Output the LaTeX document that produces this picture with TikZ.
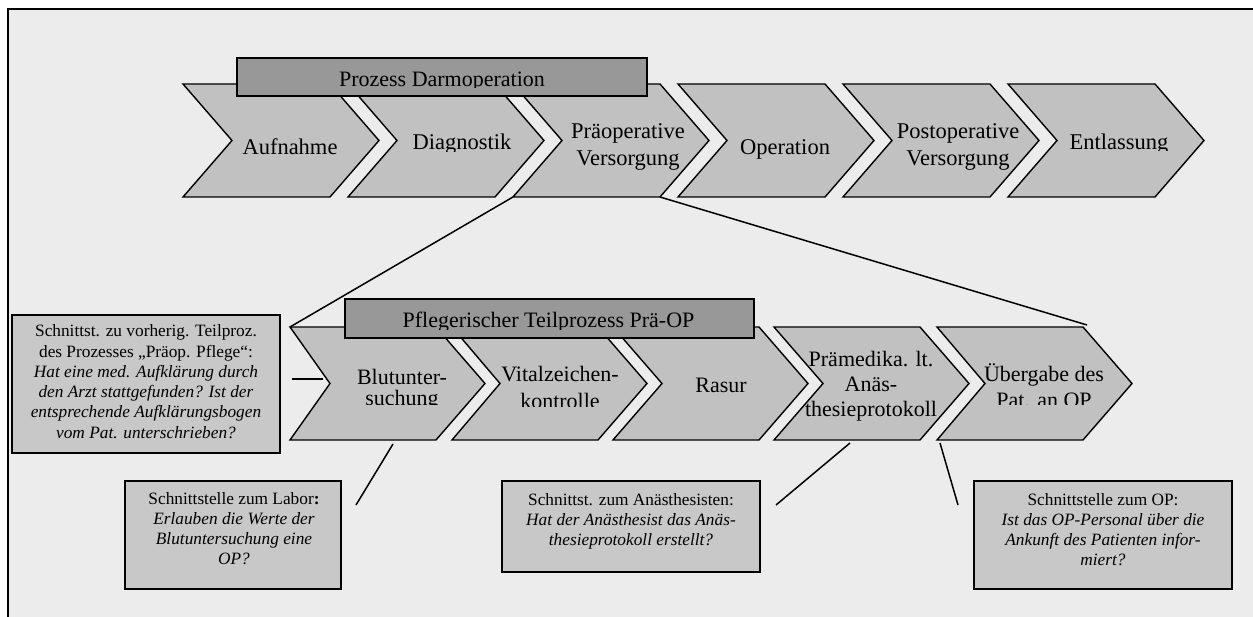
\documentclass[tikz,border=0pt]{standalone}
\usepackage{fontspec}
\setmainfont{Liberation Serif}
\definecolor{bgc}{RGB}{236,236,236}
\definecolor{chevc}{RGB}{193,193,193}
\definecolor{hdrc}{RGB}{152,152,152}
\definecolor{boxc}{RGB}{200,200,200}
% name, x0, y0, width, height, tip depth, notch depth
\newcommand\chevshape[7]{%
  \draw[chev] (#2,#3) coordinate (#1TL) -- ++(#4,0) coordinate (#1TR)
    -- ++(#6,#5/2) coordinate (#1tip) -- ++(-#6,#5/2) coordinate (#1BR)
    -- ++(-#4,0) coordinate (#1BL) -- ++(#7,-#5/2) coordinate (#1notch) -- cycle;}
\tikzset{
  chev/.style={draw=black, fill=chevc, line width=1.4pt, line join=miter},
  hdr/.style={draw=black, fill=hdrc, line width=1.5pt, rectangle, inner sep=0pt},
  ibox/.style={draw=black, fill=boxc, line width=2.2pt, rectangle, inner sep=0pt},
  ctext/.style={font=\fontsize{22.5}{27}\selectfont, inner sep=0pt, align=center},
  btext/.style={inner sep=0pt, align=center},
  conn/.style={draw=black, line width=1.5pt},
}
\begin{document}
\begin{tikzpicture}[x=1pt,y=-1pt]
\useasboundingbox (0,0) rectangle (1253,617);
\fill[white] (0,0) rectangle (1253,617);
\fill[bgc] (8,9) rectangle (1253,617);
\draw[line width=2pt] (8,617) -- (8,9) -- (1253,9);

% top chevrons
\chevshape{auf}{183}{84}{147}{113}{49}{49}
\chevshape{dia}{348}{84}{147}{113}{49}{49}
\chevshape{prae}{513}{84}{147}{113}{49}{49}
\chevshape{ope}{678}{84}{147}{113}{49}{49}
\chevshape{post}{843}{84}{147}{113}{49}{49}
\chevshape{ent}{1008}{84}{147}{113}{49}{49}

\node[ctext, anchor=base] (aufT) at (290,155) {Aufnahme};
\begin{scope}
  \clip (400,84) rectangle (540,152);
  \node[ctext, anchor=base] (diaT) at (462,150) {Diagnostik};
\end{scope}
\node[ctext] (praeT) at (628,147.1) {\strut Präoperative\\\strut Versorgung};
\node[ctext, anchor=base] (opeT) at (785,155) {Operation};
\node[ctext] (postT) at (958,147.1) {\strut Postoperative\\\strut Versorgung};
\begin{scope}
  \clip (1060,84) rectangle (1200,151);
  \node[ctext, anchor=base] (entT) at (1119,150) {Entlassung};
\end{scope}

% top header
\node[hdr, minimum width=410pt, minimum height=38pt] (hdrTop) at (442,77) {};
\begin{scope}
  \clip (237,58) rectangle (647,88);
  \node[anchor=base, inner sep=0pt, font=\fontsize{22}{26}\selectfont] (hdrTopT) at (442,87) {Prozess Darmoperation};
\end{scope}

% lower chevrons
\chevshape{blut}{290}{327}{146}{113}{49}{40}
\chevshape{vital}{452}{327}{146}{113}{49}{48}
\chevshape{rasur}{613}{327}{146}{113}{49}{49}
\chevshape{praem}{774}{327}{146}{113}{49}{49}
\chevshape{ueb}{937}{327}{146}{113}{49}{48}

\begin{scope}
  \clip (330,327) rectangle (485,405);
  \node[btext, font=\fontsize{22}{18.5}\selectfont] (blutT) at (402,390.2) {\strut Blutunter-\\\strut suchung};
\end{scope}
\begin{scope}
  \clip (490,327) rectangle (645,406.5);
  \node[btext, font=\fontsize{22}{27}\selectfont] (vitalT) at (560,390.1) {\strut Vitalzeichen-\\\strut kontrolle};
\end{scope}
\node[btext, anchor=base, font=\fontsize{22}{26}\selectfont] (rasurT) at (721,393) {Rasur};
\node[btext, font=\fontsize{22}{25.5}\selectfont] (praemT) at (871,386.4) {\strut Prämedika. lt.\\\strut Anäs-\\\strut thesieprotokoll};
\begin{scope}
  \clip (960,327) rectangle (1130,405);
  \node[btext, font=\fontsize{22}{26}\selectfont] (uebT) at (1044,389.8) {\strut Übergabe des\\\strut Pat. an OP};
\end{scope}

% lower header
\node[hdr, minimum width=409pt, minimum height=39pt] (hdrLow) at (549.5,318.5) {};
\begin{scope}
  \clip (345,299) rectangle (754,330);
  \node[anchor=base, inner sep=0pt, font=\fontsize{22}{26}\selectfont] (hdrLowT) at (548.5,328) {Pflegerischer Teilprozess Prä-OP};
\end{scope}

% interface boxes
\node[ibox, minimum width=268pt, minimum height=138pt] (leftBox) at (146,384) {};
\node[btext, font=\fontsize{17.3}{20.3}\selectfont] (leftT) at (146,383.4) {\strut Schnittst. zu vorherig. Teilproz.\\
\strut des Prozesses „Präop. Pflege“:\\
\strut\textit{Hat eine med. Aufklärung durch}\\
\strut\textit{den Arzt stattgefunden? Ist der}\\
\strut\textit{entsprechende Aufklärungsbogen}\\
\strut\textit{vom Pat. unterschrieben?}};

\node[ibox, minimum width=216pt, minimum height=108pt] (laborBox) at (233,535) {};
\node[btext, font=\fontsize{17.3}{19.8}\selectfont] (laborT) at (234,530.7) {\strut Schnittstelle zum Labor\textbf{:}\\
\strut\textit{Erlauben die Werte der}\\
\strut\textit{Blutuntersuchung eine}\\
\strut\textit{OP?}};

\node[ibox, minimum width=258pt, minimum height=91pt] (anaeBox) at (631,526.5) {};
\node[btext, font=\fontsize{17.3}{20}\selectfont] (anaeT) at (631,521) {\strut Schnittst. zum Anästhesisten:\\
\strut\textit{Hat der Anästhesist das Anäs-}\\
\strut\textit{thesieprotokoll erstellt?}};

\node[ibox, minimum width=258pt, minimum height=108pt] (opBox) at (1103,535) {};
\node[btext, font=\fontsize{17.3}{20}\selectfont] (opT) at (1103,531) {\strut Schnittstelle zum OP:\\
\strut\textit{Ist das OP-Personal über die}\\
\strut\textit{Ankunft des Patienten infor-}\\
\strut\textit{miert?}};

% connectors
\coordinate (uebEnd) at (1087,325);
\draw[conn] (praeBL) -- (blutTL);
\draw[conn] (praeBR) -- (uebEnd);
\coordinate (stubA) at (292,379);
\coordinate (stubB) at (323,379);
\draw[conn] (stubA) -- (stubB);
\coordinate (laborA) at (393,444);
\coordinate (laborB) at (356,505);
\draw[conn] (laborA) -- (laborB);
\coordinate (anaeA) at (850,443);
\coordinate (anaeB) at (776,505);
\draw[conn] (anaeA) -- (anaeB);
\coordinate (opA) at (940,443);
\coordinate (opB) at (958,505);
\draw[conn] (opA) -- (opB);
\end{tikzpicture}
\end{document}
